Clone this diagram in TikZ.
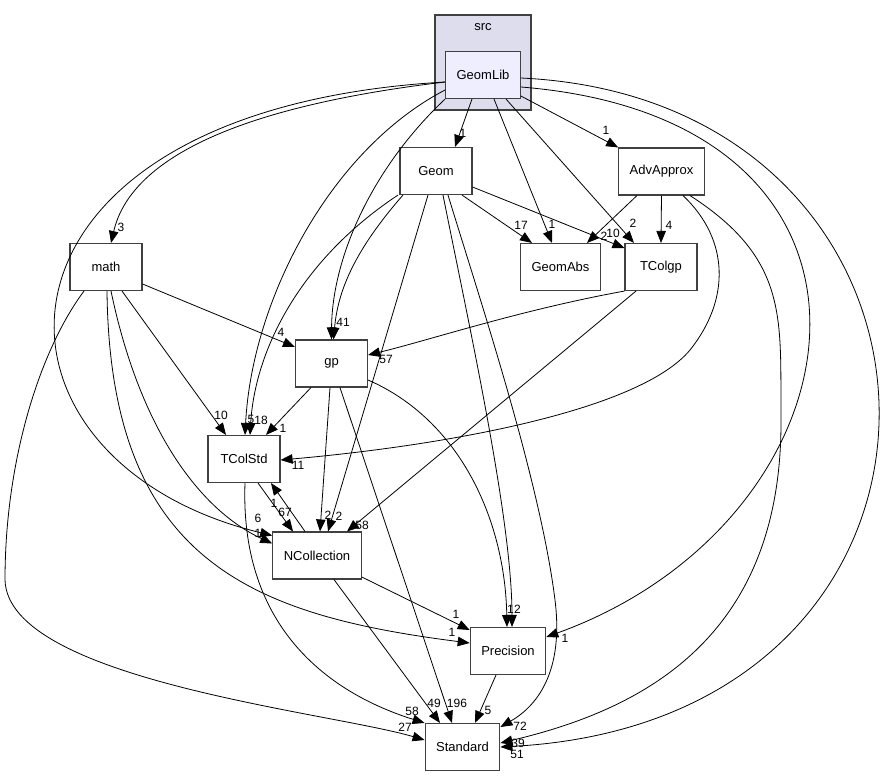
\documentclass[tikz,border=0pt]{standalone}
\usepackage{fontspec}
\setmainfont{Liberation Sans}
\usetikzlibrary{arrows.meta}
\definecolor{clusterfill}{HTML}{DDDDEE}
\definecolor{libfill}{HTML}{EEEEFF}
\definecolor{boxline}{HTML}{404040}

\begin{document}
\begin{tikzpicture}[x=1pt,y=-1pt,>={Triangle[length=12pt,width=9.5pt]},
 font=\fontsize{13}{15}\selectfont,
 dirbox/.style={draw=boxline,line width=1.1pt,fill=white,minimum width=72pt,minimum height=47pt,inner xsep=11pt},
 cluster/.style={draw=boxline,line width=1.1pt,fill=clusterfill,minimum width=96pt,minimum height=95pt},
 elbl/.style={font=\fontsize{12}{13}\selectfont,inner sep=0pt},
 dep/.style={->,line width=0.8pt}]
\useasboundingbox (0,0) rectangle (892,777);
\node[cluster] (src) at (483,62.5) {};
\node (srcname) at (483,27) {src};
\node[dirbox,fill=libfill] (GeomLib) at (483,75) {GeomLib};
\node[dirbox] (Geom) at (436,171) {Geom};
\node[dirbox] (AdvApprox) at (661.5,171.5) {AdvApprox};
\node[dirbox] (GeomAbs) at (560.5,267) {GeomAbs};
\node[dirbox] (TColgp) at (661,267) {TColgp};
\node[dirbox] (math) at (106,267) {math};
\node[dirbox] (gp) at (331.5,363.5) {gp};
\node[dirbox] (TColStd) at (244,459) {TColStd};
\node[dirbox] (NCollection) at (317,555.5) {NCollection};
\node[dirbox] (Precision) at (508,651) {Precision};
\node[dirbox] (Standard) at (462.5,747) {Standard};
% GeomLib
\draw[dep] ([xshift=-11pt]GeomLib.south) -- ([xshift=19pt]Geom.north) node[elbl] at (463,133) {1};
\draw[dep] ([yshift=-21pt]GeomLib.east) -- (AdvApprox.north west) node[elbl] at (606,130) {1};
\draw[dep] ([xshift=11pt]GeomLib.south) -- ([xshift=-8.5pt]GeomAbs.north) node[elbl] at (552,224) {1};
\draw[dep] ([xshift=23pt]GeomLib.south) -- ([xshift=-27pt]TColgp.north) node[elbl] at (633,223) {2};
\draw[dep] ([yshift=-7pt]GeomLib.west) .. controls (210,110) and (128,170) .. ([xshift=5pt]math.north) node[elbl] at (121,227) {3};
\draw[dep] ([yshift=-7pt]GeomLib.west) .. controls (-40,110) and (-40,460) .. ([yshift=20pt]NCollection.west) node[elbl] at (258,518) {6};
\draw[dep] ([yshift=-15pt]GeomLib.west) .. controls (330,150) and (252,300) .. ([xshift=1pt]TColStd.north) node[elbl] at (251,419) {5};
\draw[dep] (GeomLib.south west) .. controls (370,170) and (332,260) .. (gp.north) node[elbl] at (343,322) {41};
\draw[dep] ([yshift=-12pt]GeomLib.east) .. controls (930,120) and (870,520) .. ([yshift=14pt]Precision.east) node[elbl] at (565,638) {1};
\draw[dep] ([yshift=-3pt]GeomLib.east) .. controls (990,100) and (1010,720) .. (Standard.east) node[elbl] at (517,754) {51};
% Geom
\draw[dep] ([xshift=26pt]Geom.south) -- ([xshift=-28.5pt]GeomAbs.north) node[elbl] at (521,225) {17};
\draw[dep] ([yshift=-16pt]Geom.east) -- ([yshift=19pt]TColgp.west) node[elbl] at (613,233) {10};
\draw[dep] ([xshift=-33pt]Geom.south) .. controls (355,250) and (338,290) .. ([xshift=2pt]gp.north);
\draw[dep] ([xshift=-38pt]Geom.south) .. controls (300,260) and (255,350) .. ([xshift=6pt]TColStd.north) node[elbl] at (261,420) {18};
\draw[dep] ([xshift=-8pt]Geom.south) -- ([xshift=11pt]NCollection.north) node[elbl] at (339,516) {2};
\draw[dep] ([xshift=7pt]Geom.south) .. controls (470,330) and (512,520) .. ([xshift=4pt]Precision.north) node[elbl] at (517.5,609) {2};
\draw[dep] ([xshift=12pt]Geom.south) .. controls (480,300) and (540,480) .. (555,600) .. controls (565,680) and (530,710) .. ([yshift=20pt]Standard.east) node[elbl] at (520,726) {72};
% AdvApprox
\draw[dep] ([xshift=-24.5pt]AdvApprox.south) -- ([xshift=26.5pt]GeomAbs.north) node[elbl] at (604,236) {2};
\draw[dep] (AdvApprox.south) -- (TColgp.north) node[elbl] at (669,225) {4};
\draw[dep] ([xshift=21.5pt]AdvApprox.south) .. controls (730,240) and (730,300) .. (690,350) .. controls (640,410) and (450,445) .. ([yshift=-1pt]TColStd.east) node[elbl] at (298,465) {11};
\draw[dep] ([xshift=28.5pt]AdvApprox.south) .. controls (790,260) and (780,320) .. (781,420) .. controls (782,640) and (640,710) .. ([yshift=4pt]Standard.east) node[elbl] at (518,743) {39};
% TColgp
\draw[dep] (TColgp.south west) .. controls (520,310) and (430,340) .. ([yshift=8.5pt]gp.east) node[elbl] at (386,359) {57};
\draw[dep] ([xshift=-25pt]TColgp.south) -- ([xshift=30pt]NCollection.north) node[elbl] at (362,525) {58};
% math
\draw[dep] ([yshift=-17pt]math.east) -- ([yshift=16.5pt]gp.west) node[elbl] at (281,332) {4};
\draw[dep] ([xshift=16pt]math.south) -- ([xshift=-18pt]TColStd.north) node[elbl] at (221,415) {10};
\draw[dep] ([xshift=5pt]math.south) .. controls (140,430) and (200,510) .. ([yshift=12pt]NCollection.west) node[elbl] at (258,533) {1};
\draw[dep] ([xshift=1pt]math.south) .. controls (110,560) and (250,615) .. ([yshift=8pt]Precision.west) node[elbl] at (452,632) {1};
\draw[dep] ([xshift=-22pt]math.south) .. controls (40,350) and (5,460) .. (5,580) .. controls (8,680) and (330,712) .. ([yshift=7pt]Standard.west) node[elbl] at (405,727) {27};
% gp
\draw[dep] ([xshift=-20.5pt]gp.south) -- ([xshift=22pt]TColStd.north) node[elbl] at (283,428) {1};
\draw[dep] ([xshift=-1.5pt]gp.south) -- ([xshift=3pt]NCollection.north) node[elbl] at (328,515) {2};
\draw[dep] ([yshift=-16.5pt]gp.east) .. controls (460,420) and (505,520) .. ([xshift=-1pt]Precision.north) node[elbl] at (510.5,609) {1};
\draw[dep] ([xshift=8.5pt]gp.south) -- ([xshift=-10.5pt]Standard.north) node[elbl] at (457,703) {196};
% TColStd / NCollection
\draw[dep] ([xshift=14pt]TColStd.south) -- ([xshift=-24pt]NCollection.north) node[elbl] at (285,512) {67};
\draw[dep] ([xshift=-12pt]NCollection.north) -- ([xshift=27pt]TColStd.south) node[elbl] at (274,503) {1};
\draw[dep] ([xshift=1pt]TColStd.south) .. controls (240,620) and (320,690) .. (Standard.north west) node[elbl] at (412,711) {58};
\draw[dep] ([yshift=-21.5pt]NCollection.east) -- ([yshift=21pt]Precision.west) node[elbl] at (456,614) {1};
\draw[dep] ([xshift=17pt]NCollection.south) -- ([xshift=-22.5pt]Standard.north) node[elbl] at (434,703) {49};
% Precision
\draw[dep] ([xshift=-12pt]Precision.south) -- ([xshift=12.5pt]Standard.north) node[elbl] at (488,710) {5};
\end{tikzpicture}
\end{document}
